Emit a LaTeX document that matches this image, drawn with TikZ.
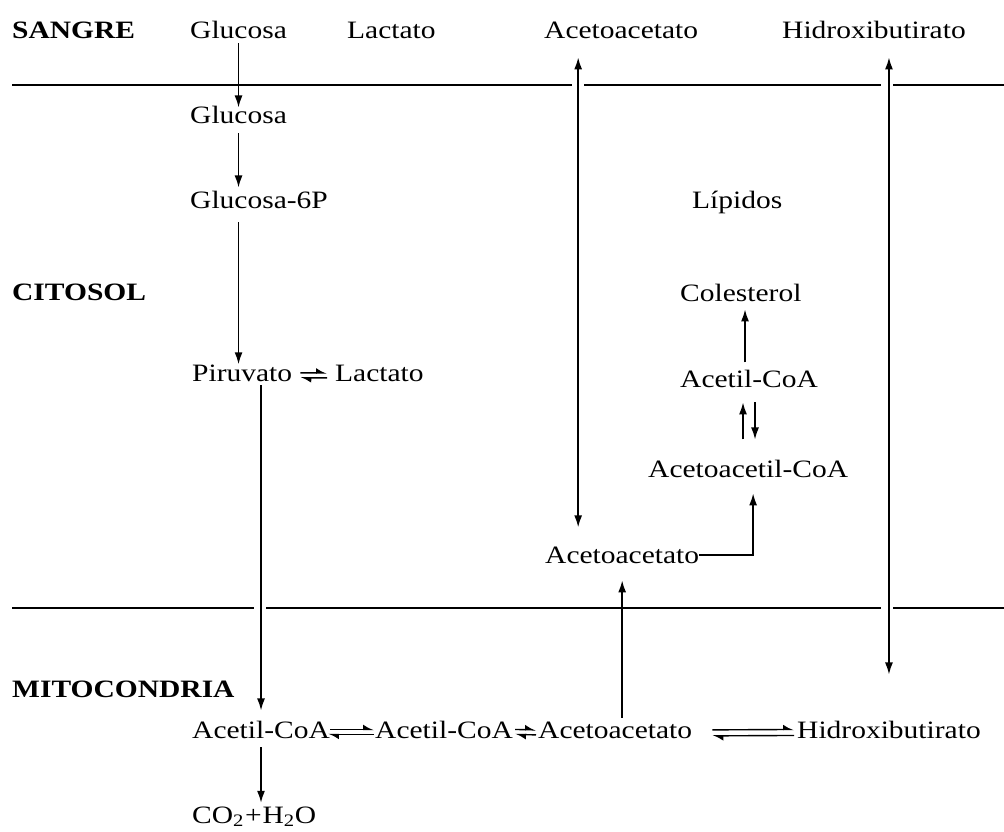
\documentclass[tikz,border=0pt]{standalone}
\usepackage{fontspec}
\setmainfont[FakeStretch=1.18]{Liberation Serif}
\usetikzlibrary{arrows.meta}
\begin{document}
\begin{tikzpicture}[x=1pt,y=-1pt,
  lbl/.style={anchor=base west, inner sep=0pt, font=\fontsize{25}{30}\selectfont},
  arr/.style={line width=1.5pt, -{Latex[length=12pt,width=8pt]}},
  darr/.style={line width=1.5pt, {Latex[length=12pt,width=8pt]}-{Latex[length=12pt,width=8pt]}},
  sep/.style={line width=1.8pt},
  harp/.style={line width=1.4pt, -{Latex[harpoon,length=9pt,width=10pt]}},
  gap/.style={fill=white}]
\useasboundingbox (0,0) rectangle (1004,831);

% separators
\draw[sep] (12,85) -- (1004,85);
\draw[sep] (12,608) -- (1004,608);
\fill[gap] (572,81) rectangle (584,89);
\fill[gap] (881,81) rectangle (893,89);
\fill[gap] (254,604) rectangle (266,612);
\fill[gap] (881,604) rectangle (893,612);

% labels
\node[lbl] (sangre) at (12,38) {\textbf{SANGRE}};
\node[lbl] (glu1) at (190,38) {Glucosa};
\node[lbl] (lac1) at (347,38) {Lactato};
\node[lbl] (aca1) at (544,38) {Acetoacetato};
\node[lbl] (hid1) at (782,38) {Hidroxibutirato};
\node[lbl] (glu2) at (190,123) {Glucosa};
\node[lbl] (g6p) at (190,208) {Glucosa-6P};
\node[lbl] (lip) at (692,208) {Lípidos};
\node[lbl] (cito) at (12,300) {\textbf{CITOSOL}};
\node[lbl] (col) at (680,301) {Colesterol};
\node[lbl] (pir) at (192,381) {Piruvato};
\node[lbl] (lac2) at (335,381) {Lactato};
\node[lbl] (acc1) at (680,387) {Acetil-CoA};
\node[lbl] (aacc) at (648,477) {Acetoacetil-CoA};
\node[lbl] (aca2) at (545,563) {Acetoacetato};
\node[lbl] (mito) at (12,697) {\textbf{MITOCONDRIA}};
\node[lbl] (acm1) at (192,738) {Acetil-CoA};
\node[lbl] (acm2) at (375,738) {Acetil-CoA};
\node[lbl] (acam) at (538,738) {Acetoacetato};
\node[lbl] (hidm) at (797,738) {Hidroxibutirato};
\node[lbl] (co2) at (192,823) {CO\textsubscript{2}\kern1pt+\kern1ptH\textsubscript{2}O};

% helper coordinates
\coordinate (a1) at ([xshift=-43pt]aca1.south);
\coordinate (c1) at ([xshift=-4pt]acc1.north);
\coordinate (u1) at ([xshift=-6pt]acc1.south);
\coordinate (u2) at ([xshift=6pt]acc1.south);
\coordinate (h1) at ([xshift=5pt]aacc.south);

% vertical arrows
\draw[arr, shorten <=5pt, shorten >=-2pt] (glu1.south) -- (glu1.south |- glu2.north);
\draw[arr, shorten <=10pt, shorten >=3pt] (glu2.south) -- (glu2.south |- g6p.north);
\draw[arr, shorten <=14pt] (glu2.south |- g6p.south) -- (glu2.south |- pir.north);
\draw[arr, shorten <=4pt, shorten >=10pt] (acm1.north |- pir.south) -- (acm1.north);
\draw[arr, shorten <=9pt, shorten >=3.5pt] (acm1.south) -- (acm1.south |- co2.north);
\draw[darr, shorten <=19pt, shorten >=19pt] (a1) -- (a1 |- aca2.north);
\draw[darr, shorten <=19pt, shorten >=46pt] (hidm.north |- hid1.south) -- (hidm.north);
\draw[arr, shorten <=7pt, shorten >=8pt] (c1) -- (c1 |- col.south);
\draw[arr, shorten <=20pt, shorten >=15pt] (u1 |- aacc.north) -- (u1);
\draw[arr, shorten <=15pt, shorten >=20pt] (u2) -- (u2 |- aacc.north);
\draw[arr, shorten >=16pt] (aca2.east) -| (h1);
\draw[arr, shorten <=3.5pt, shorten >=17pt] (aca2.south |- acam.north) -- (aca2.south);

% equilibria
\draw[harp] ([shift={(8,0)}]pir.east) -- ([shift={(-8,0)}]lac2.west);
\draw[harp] ([shift={(-8,5)}]lac2.west) -- ([shift={(8,5)}]pir.east);
\draw[harp] ([shift={(0,0)}]acm1.east) -- ([shift={(-1,0)}]acm2.west);
\draw[harp] ([shift={(-1,5)}]acm2.west) -- ([shift={(-2,5)}]acm1.east);
\draw[harp] ([shift={(2,0)}]acm2.east) -- ([shift={(-2,0)}]acam.west);
\draw[harp] ([shift={(-2,5)}]acam.west) -- ([shift={(2,5)}]acm2.east);
\draw[harp] ([shift={(20,0)}]acam.east) -- ([shift={(-3,0)}]hidm.west);
\draw[harp] ([shift={(-3,6)}]hidm.west) -- ([shift={(20,6)}]acam.east);
\end{tikzpicture}
\end{document}
